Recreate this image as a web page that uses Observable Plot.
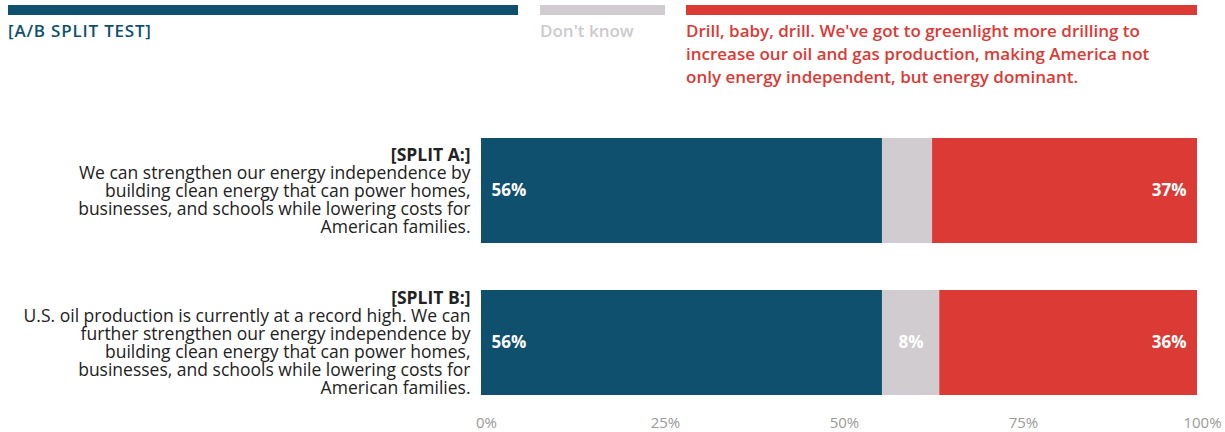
<!DOCTYPE html>
<html>
<head>
<meta charset="utf-8">
<script src="https://cdn.jsdelivr.net/npm/d3@7"></script>
<script src="https://cdn.jsdelivr.net/npm/@observablehq/plot@0.6"></script>
<style>
  body { margin: 0; background: #fff; font-family: "Open Sans", Lato, sans-serif; }
  #wrap { position: relative; width: 1225px; }
  #legend { position: relative; height: 100px; }
  .lg { position: absolute; top: 5px; }
  .lg .bar { height: 10px; }
  .lg .txt { margin-top: 4px; font-size: 17px; font-weight: 600; line-height: 23px; white-space: nowrap; }
</style>
</head>
<body>
<div id="wrap">
  <div id="legend"></div>
  <div id="chart"></div>
</div>
<script>
// ---- data ----
const rows = ["SPLIT A", "SPLIT B"];
const headings = ["[SPLIT A:]", "[SPLIT B:]"];
const bodies = [
  "We can strengthen our energy independence by\nbuilding clean energy that can power homes,\nbusinesses, and schools while lowering costs for\nAmerican families.",
  "U.S. oil production is currently at a record high. We can\nfurther strengthen our energy independence by\nbuilding clean energy that can power homes,\nbusinesses, and schools while lowering costs for\nAmerican families."
];
const responses = ["Clean energy", "Don't know", "Drill"];
const cleanEnergy = [56, 56];
const dontKnow = [7, 8];
const drill = [37, 36];
const colors = ["#0e506d", "#d0ccd0", "#db3a35"];
const legendLabels = [
  "[A/B SPLIT TEST]",
  "Don't know",
  "Drill, baby, drill. We've got to greenlight more drilling to<br>increase our oil and gas production, making America not<br>only energy independent, but energy dominant."
];
const legendTextColors = ["#0e506d", "#cdc9cd", "#db3a35"];
const xTicks = [0, 25, 50, 75, 100];

// ---- legend (HTML) ----
const legendBoxes = [{left: 8, width: 510}, {left: 540, width: 125}, {left: 686, width: 511}];
const legend = document.getElementById("legend");
legendLabels.forEach((lab, i) => {
  const d = document.createElement("div");
  d.className = "lg";
  d.style.left = legendBoxes[i].left + "px";
  d.style.width = legendBoxes[i].width + "px";
  const ls = i === 0 ? "letter-spacing:0.8px;" : "";
  d.innerHTML = `<div class="bar" style="background:${colors[i]}"></div><div class="txt" style="color:${legendTextColors[i]};${ls}">${lab}</div>`;
  legend.appendChild(d);
});

// ---- table ----
const series = [cleanEnergy, dontKnow, drill];
const data = [];
rows.forEach((r, i) => responses.forEach((resp, j) => data.push({row: r, response: resp, value: series[j][i]})));
const rowData = rows.map((r, i) => ({row: r, heading: headings[i], body: bodies[i], lines: bodies[i].split("\n").length + 1}));

const FONT = "'Open Sans', Lato, sans-serif";
const lineH = 18;
const fs = 17.5;
const chart = Plot.plot({
  width: 1225,
  height: 332,
  marginLeft: 481,
  marginRight: 28,
  marginTop: 38,
  marginBottom: 37,
  style: {fontFamily: FONT, background: "#fff"},
  x: {domain: [0, 100], axis: null},
  y: {domain: rows, axis: null, paddingInner: 0.31, paddingOuter: 0},
  color: {domain: responses, range: colors},
  marks: [
    Plot.barX(data, Plot.stackX({x: "value", y: "row", fill: "response", order: responses})),
    Plot.text(data, Plot.stackX1({x: "value", y: "row", z: "response", order: responses,
      text: d => d.response === "Clean energy" ? d.value + "%" : "",
      textAnchor: "start", dx: 10, fill: "white", fontSize: 17, fontWeight: 700})),
    Plot.text(data, Plot.stackX({x: "value", y: "row", z: "response", order: responses,
      text: d => d.response === "Don't know" && d.value >= 8 ? d.value + "%" : "",
      fill: "white", fontSize: 17, fontWeight: 700})),
    Plot.text(data, Plot.stackX2({x: "value", y: "row", z: "response", order: responses,
      text: d => d.response === "Drill" ? d.value + "%" : "",
      textAnchor: "end", dx: -11, fill: "white", fontSize: 17, fontWeight: 700})),
    Plot.axisX({ticks: xTicks, tickFormat: d => d + "%", tickSize: 0, tickPadding: 22, fontSize: 15, fill: "#9a9a9a", dx: 5, label: null}),
    ...rowData.map(r => Plot.text([r], {y: "row", frameAnchor: "left", dx: -11, textAnchor: "end",
      text: "heading", fontSize: fs, fontWeight: 700, fill: "#222",
      dy: -(r.lines - 1) / 2 * lineH})),
    ...rowData.map(r => Plot.text([r], {y: "row", frameAnchor: "left", dx: -11, textAnchor: "end",
      text: "body", fontSize: fs, fill: "#222", lineAnchor: "middle", lineHeight: lineH / fs,
      dy: lineH / 2}))
  ]
});
document.getElementById("chart").appendChild(chart);
</script>
</body>
</html>
